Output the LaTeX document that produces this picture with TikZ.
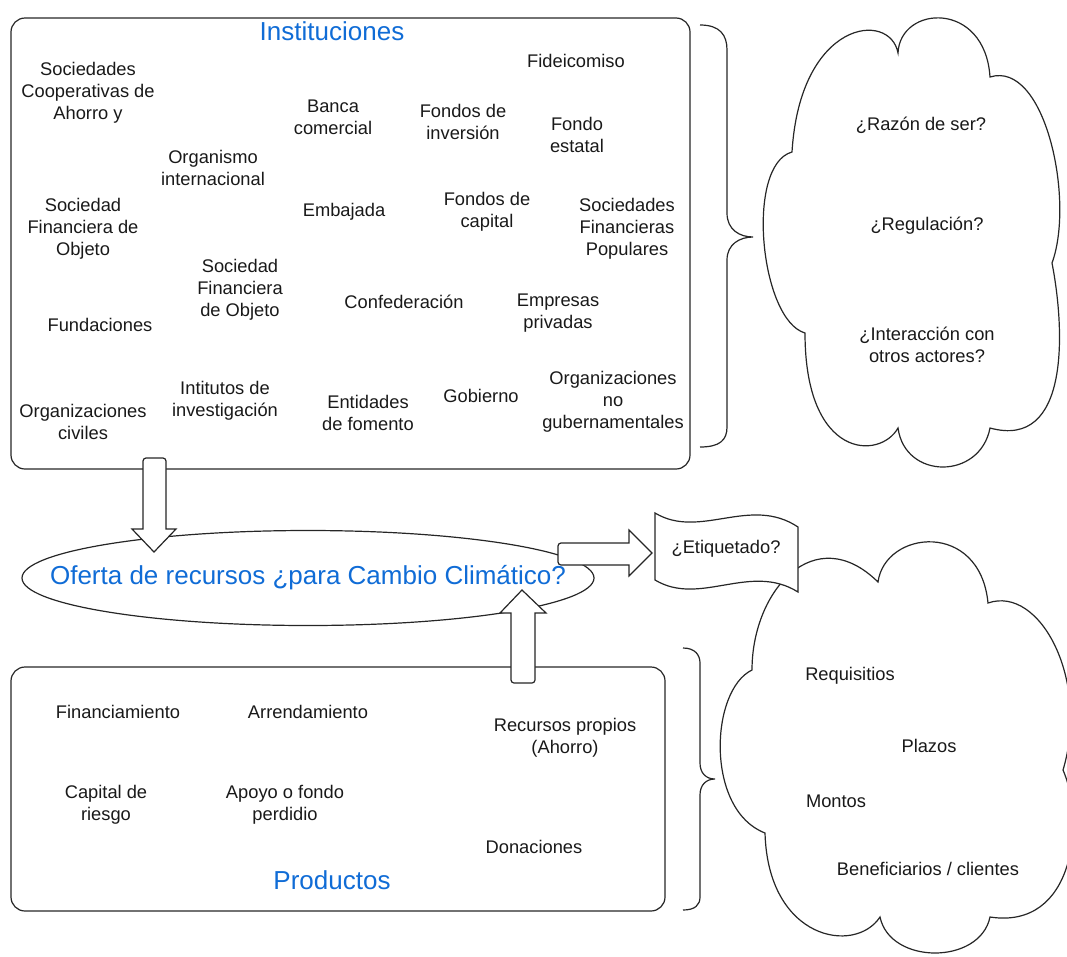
\documentclass[tikz,border=0pt]{standalone}
\usepackage{fontspec}
\setmainfont{Liberation Sans}
\usetikzlibrary{shapes.geometric}
\definecolor{lucblue}{RGB}{16,108,214}
\begin{document}
\begin{tikzpicture}[x=1pt,y=-1pt,
  outl/.style={draw=black!85, line width=1.2pt},
  txt/.style={font=\fontsize{18.3}{22}\selectfont, align=center, inner sep=0pt, text=black!90},
  ttl/.style={font=\fontsize{26}{30}\selectfont, text=lucblue, inner sep=0pt},
  box/.style={outl, rounded corners=14pt, inner sep=0pt},
  barrow/.style={outl, fill=white, line join=miter},
  cloudline/.style={outl, fill=white},
]
\useasboundingbox (0,0) rectangle (1067,956);

% ---------- boxes ----------
\node[box, minimum width=679pt, minimum height=451pt] (inst) at (350.5,243.5) {};
\node[box, minimum width=654pt, minimum height=244pt] (prod) at (338,789) {};
\node[outl, ellipse, minimum width=572pt, minimum height=95pt, inner sep=0pt] (oferta) at (308,578) {};

% ---------- clouds ----------
\draw[cloudline] (792,152)
  .. controls (800,20) and (890,10) .. (898,53)
  .. controls (900,5) and (985,0) .. (990,77)
  .. controls (1045,60) and (1075,200) .. (1052,263)
  .. controls (1065,330) and (1070,450) .. (990,428)
  .. controls (980,480) and (905,480) .. (898,428)
  .. controls (880,460) and (805,460) .. (805,333)
  .. controls (760,320) and (745,165) .. (792,152) -- cycle;

\draw[cloudline] (752,670)
  .. controls (752,590) and (815,520) .. (878,582)
  .. controls (885,530) and (980,520) .. (988,603)
  .. controls (1040,585) and (1090,680) .. (1063,770)
  .. controls (1085,820) and (1075,930) .. (990,917)
  .. controls (980,965) and (890,965) .. (880,917)
  .. controls (855,955) and (768,940) .. (765,833)
  .. controls (705,810) and (710,690) .. (752,670) -- cycle;

% ---------- braces ----------
\draw[outl] (700,25) .. controls (720,25) and (727,35) .. (727,50) -- (727,213)
  .. controls (727,230) and (740,237) .. (753,237)
  .. controls (740,237) and (727,244) .. (727,260) -- (727,427)
  .. controls (727,440) and (720,447) .. (700,447);
\draw[outl] (683,648) .. controls (695,648) and (700,655) .. (700,663) -- (700,763)
  .. controls (700,773) and (706,779) .. (715,779)
  .. controls (706,779) and (700,785) .. (700,795) -- (700,897)
  .. controls (700,905) and (695,910) .. (683,910);

% ---------- flag ----------
\draw[outl, fill=white] (655,513) .. controls (700,540) and (750,495) .. (798,527)
  -- (798,592) .. controls (750,562) and (700,607) .. (655,580) -- cycle;
\node[txt] (etiq) at (726,549) {¿Etiquetado?};

% ---------- block arrows ----------
\draw[barrow] (132,529) -- (143,529) [rounded corners=3pt] -- (143,458) -- (166,458) [sharp corners] -- (166,529) -- (176,529) -- (154,552) -- cycle;
\draw[barrow] (629,530) -- (629,543) [rounded corners=3pt] -- (558,543) -- (558,565) [sharp corners] -- (629,565) -- (629,576) -- (652,553) -- cycle;
\draw[barrow] (500,613) -- (511,613) [rounded corners=3pt] -- (511,683) -- (535,683) [sharp corners] -- (535,613) -- (546,613) -- (522,590) -- cycle;

% ---------- titles ----------
\node[ttl] (insttitle) at (332,31) {Instituciones};
\node[ttl] (prodtitle) at (332,880) {Productos};
\node[ttl] (ofertatxt) at (308,578) {Oferta de recursos ¿para Cambio Climático?};

% ---------- institutions ----------
\node[txt] (i1) at (88,93) {Sociedades\\Cooperativas de\\Ahorro y};
\node[txt] (i2) at (576,61) {Fideicomiso};
\node[txt] (i3) at (333,117) {Banca\\comercial};
\node[txt] (i4) at (463,122) {Fondos de\\inversión};
\node[txt] (i5) at (577,135) {Fondo\\estatal};
\node[txt] (i6) at (213,168) {Organismo\\internacional};
\node[txt] (i7) at (83,229) {Sociedad\\Financiera de\\Objeto};
\node[txt] (i8) at (344,212) {Embajada};
\node[txt] (i9) at (487,212) {Fondos de\\capital};
\node[txt] (i10) at (627,229) {Sociedades\\Financieras\\Populares};
\node[txt] (i11) at (240,290) {Sociedad\\Financiera\\de Objeto};
\node[txt] (i12) at (404,302) {Confederación};
\node[txt] (i13) at (558,313) {Empresas\\privadas};
\node[txt] (i14) at (100,325) {Fundaciones};
\node[txt] (i15) at (225,401) {Intitutos de\\investigación};
\node[txt] (i16) at (83,422) {Organizaciones\\civiles};
\node[txt] (i17) at (368,413) {Entidades\\de fomento};
\node[txt] (i18) at (481,396) {Gobierno};
\node[txt] (i19) at (613,402) {Organizaciones\\no\\gubernamentales};

% ---------- products ----------
\node[txt] (p1) at (118,712) {Financiamiento};
\node[txt] (p2) at (308,712) {Arrendamiento};
\node[txt] (p3) at (565,738) {Recursos propios\\(Ahorro)};
\node[txt] (p4) at (106,805) {Capital de\\riesgo};
\node[txt] (p5) at (285,805) {Apoyo o fondo\\perdidio};
\node[txt] (p6) at (534,847) {Donaciones};

% ---------- cloud texts ----------
\node[txt] (q1) at (921,125) {¿Razón de ser?};
\node[txt] (q2) at (927,226) {¿Regulación?};
\node[txt] (q3) at (927,345) {¿Interacción con\\otros actores?};
\node[txt] (c1) at (850,676) {Requisitios};
\node[txt] (c2) at (929,746) {Plazos};
\node[txt] (c3) at (836,801) {Montos};
\node[txt] (c4) at (928,869) {Beneficiarios / clientes};
\end{tikzpicture}
\end{document}
